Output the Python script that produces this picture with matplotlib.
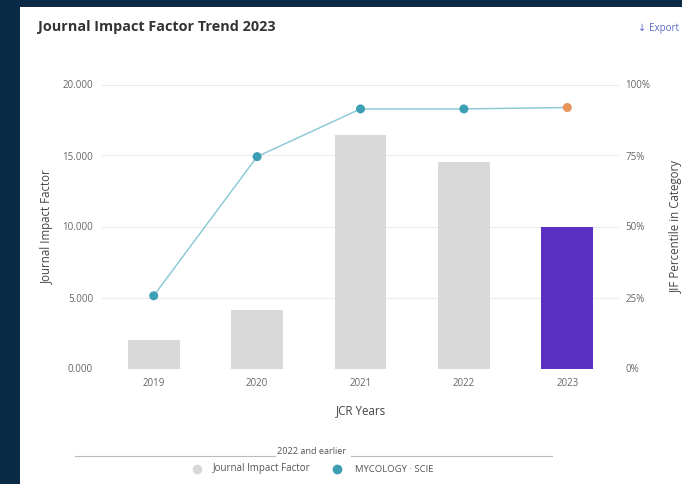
import matplotlib
matplotlib.use("Agg")
import matplotlib.pyplot as plt
from matplotlib.patches import Rectangle
from matplotlib.lines import Line2D

years = ["2019", "2020", "2021", "2022", "2023"]
jif = [2.0, 4.15, 16.47, 14.52, 9.97]
percentile = [25.6, 74.6, 91.4, 91.4, 91.9]
bar_colors = ["#d9d9d9", "#d9d9d9", "#d9d9d9", "#d9d9d9", "#5b2fbf"]
point_colors = ["#3d9fb4", "#3d9fb4", "#3d9fb4", "#3d9fb4", "#e8935a"]
left_ticks = [0, 5, 10, 15, 20]
left_labels = ["0.000", "5.000", "10.000", "15.000", "20.000"]
right_ticks = [0, 25, 50, 75, 100]
right_labels = ["0%", "25%", "50%", "75%", "100%"]

plt.rcParams['font.family'] = ['Open Sans', 'DejaVu Sans']

W, H = 682, 484
fig = plt.figure(figsize=(W / 100, H / 100), dpi=100)
fig.patch.set_facecolor("#0b2a46")

# white card
card = Rectangle((20 / W, 0), 1 - 20 / W, 1 - 7 / H, transform=fig.transFigure,
                 facecolor="white", edgecolor="none", zorder=-10)
fig.patches.append(card)

fig.text(38 / W, 1 - 27 / H, "Journal Impact Factor Trend 2023", fontsize=10.4,
         fontweight="bold", color="#333333", va="center", ha="left")
fig.text(638 / W, 1 - 28 / H, "\u2193", fontsize=7, color="#5a6ac8",
         va="center", ha="left", family=['DejaVu Sans'])
fig.text(649 / W, 1 - 28 / H, "Export", fontsize=7, color="#5a6ac8",
         va="center", ha="left")

ax_left = 102 / W
ax_right = 619 / W
ax_bottom = (H - 368.5) / H
ax_top = (H - 84.5) / H
ax = fig.add_axes([ax_left, ax_bottom, ax_right - ax_left, ax_top - ax_bottom])
ax.set_facecolor("none")

x = list(range(len(years)))
ax.bar(x, jif, width=0.5, color=bar_colors, zorder=2)
ax.set_xlim(-0.5, 4.5)
ax.set_ylim(0, 20)
ax.set_yticks(left_ticks)
ax.set_yticklabels(left_labels)
ax.set_xticks(x)
ax.set_xticklabels(years)
ax.grid(axis="y", color="#ececec", linewidth=0.8, zorder=0)
ax.set_axisbelow(True)
for s in ax.spines.values():
    s.set_visible(False)
ax.tick_params(axis="both", length=0, labelsize=7, colors="#666666")
ax.tick_params(axis="y", pad=6.5)
ax.tick_params(axis="x", pad=7)
ax.set_xlabel("JCR Years", fontsize=8.3, color="#444444", labelpad=11)
ax.set_ylabel("Journal Impact Factor", fontsize=8.3, color="#444444", labelpad=6)

ax2 = ax.twinx()
ax2.set_ylim(0, 100)
ax2.set_yticks(right_ticks)
ax2.set_yticklabels(right_labels)
for s in ax2.spines.values():
    s.set_visible(False)
ax2.tick_params(axis="y", length=0, labelsize=7, colors="#666666", pad=4.5)
ax2.set_ylabel("JIF Percentile in Category", fontsize=8.3, color="#444444", labelpad=14)
ax2.plot(x, percentile, color="#8fcbd6", linewidth=1.1, zorder=3)
ax2.scatter(x, percentile, s=42, c=point_colors, zorder=4, edgecolors="none")

# legend area
ly = 1 - 456 / H
fig.add_artist(Line2D([75 / W, 275 / W], [ly, ly], transform=fig.transFigure,
                      color="#bbbbbb", linewidth=0.8))
fig.add_artist(Line2D([351 / W, 552 / W], [ly, ly], transform=fig.transFigure,
                      color="#bbbbbb", linewidth=0.8))
fig.text(312 / W, 1 - 452 / H, "2022 and earlier", fontsize=6.6, color="#555555",
         ha="center", va="center")
my = 1 - 469 / H
fig.add_artist(Line2D([197 / W], [my], transform=fig.transFigure, marker="o",
                      markersize=6, color="#d9d9d9", linestyle="none"))
fig.text(213 / W, my, "Journal Impact Factor", fontsize=7.0, color="#555555",
         ha="left", va="center")
fig.add_artist(Line2D([337 / W], [my], transform=fig.transFigure, marker="o",
                      markersize=6, color="#3d9fb4", linestyle="none"))
fig.text(355 / W, my, "MYCOLOGY \u00b7 SCIE", fontsize=6.8, color="#555555",
         ha="left", va="center")

fig.savefig("out.png", dpi=100, facecolor=fig.get_facecolor())
